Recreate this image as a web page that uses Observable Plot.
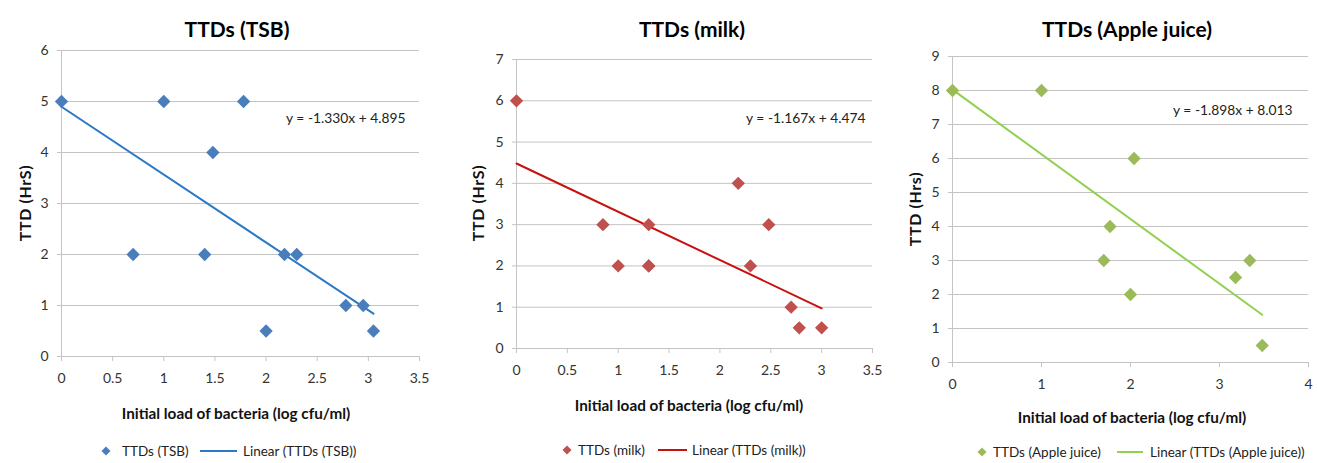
<!DOCTYPE html>
<html>
<head>
<meta charset="utf-8">
<script src="https://cdn.jsdelivr.net/npm/d3@7"></script>
<script src="https://cdn.jsdelivr.net/npm/@observablehq/plot@0.6"></script>
<style>
  html, body { margin: 0; padding: 0; background: #fff; }
  #root { position: relative; width: 1317px; height: 463px; overflow: hidden; font-family: Lato, "DejaVu Sans", sans-serif; }
  .panel { position: absolute; top: 0; }
  .title { position: absolute; transform: translate(-50%, -50%); font-weight: bold; font-size: 21px; color: #000; white-space: nowrap; }
  .xlab { position: absolute; transform: translate(-50%, -50%); font-weight: bold; font-size: 15.3px; color: #111; white-space: nowrap; }
  .ylab { position: absolute; transform: translate(-50%, -50%) rotate(-90deg); font-weight: bold; font-size: 16px; letter-spacing: 0.6px; color: #111; white-space: nowrap; }
  .leg { position: absolute; transform: translateY(-50%); font-size: 13.5px; color: #222; white-space: nowrap; }
  .legsvg { position: absolute; }
</style>
</head>
<body>
<div id="root"></div>
<script>
// ---------- data ----------
const tsbX = [0, 1, 1.78, 1.48, 0.7, 1.4, 2.18, 2.3, 2.78, 2.95, 2.0, 3.05];
const tsbY = [5, 5, 5, 4, 2, 2, 2, 2, 1, 1, 0.5, 0.5];

const milkX = [0, 0.85, 1.0, 1.3, 1.3, 1.3, 2.18, 2.3, 2.48, 2.7, 2.78, 3.0];
const milkY = [6, 3, 2, 3, 2, 2, 4, 2, 3, 1, 0.5, 0.5];

const appleX = [0, 1, 2.04, 1.77, 1.7, 2.0, 3.18, 3.34, 3.48];
const appleY = [8, 8, 6, 4, 3, 2, 2.5, 3, 0.5];

const titles = ["TTDs (TSB)", "TTDs (milk)", "TTDs (Apple juice)"];
const seriesNames = ["TTDs (TSB)", "TTDs (milk)", "TTDs (Apple juice)"];
const trendNames = ["Linear (TTDs (TSB))", "Linear (TTDs (milk))", "Linear (TTDs (Apple juice))"];
const equations = ["y = -1.330x + 4.895", "y = -1.167x + 4.474", "y = -1.898x + 8.013"];
const yLabels = ["TTD (HrS)", "TTD (HrS)", "TTD (Hrs)"];
const xLabel = "Initial load of bacteria (log cfu/ml)";

const xTicksHalf = [0, 0.5, 1, 1.5, 2, 2.5, 3, 3.5];
const xTicksWhole = [0, 1, 2, 3, 4];
const yTicks6 = [0, 1, 2, 3, 4, 5, 6];
const yTicks7 = [0, 1, 2, 3, 4, 5, 6, 7];
const yTicks9 = [0, 1, 2, 3, 4, 5, 6, 7, 8, 9];

// ---------- styles / layout ----------
const panels = [
  { xs: tsbX, ys: tsbY, xTicks: xTicksHalf, yTicks: yTicks6, dot: "#4a7ebb", line: "#2a78c8",
    left: 0, width: 440, mL: 61, mR: 21, mT: 50, mB: 107,
    titleC: [237, 28], xlabC: [236, 413], ylabC: [24, 203], eq: [-14, 68],
    legY: 451, legDiamond: 106, legText1: 122, legLine: [200, 237], legText2: 243 },
  { xs: milkX, ys: milkY, xTicks: xTicksHalf, yTicks: yTicks7, dot: "#c0504d", line: "#c8100f",
    left: 440, width: 440, mL: 76, mR: 8, mT: 59, mB: 115,
    titleC: [692, 28], xlabC: [689, 405], ylabC: [477, 203], eq: [-7, 59],
    legY: 450, legDiamond: 567, legText1: 578, legLine: [658, 687], legText2: 692 },
  { xs: appleX, ys: appleY, xTicks: xTicksWhole, yTicks: yTicks9, dot: "#9bbb59", line: "#92d050",
    left: 880, width: 437, mL: 72, mR: 9, mT: 56, mB: 101,
    titleC: [1127, 28], xlabC: [1132, 417], ylabC: [914, 209], eq: [-16, 54],
    legY: 452, legDiamond: 982, legText1: 993, legLine: [1117, 1143], legText2: 1150 }
];

const root = document.getElementById("root");

function addDiv(cls, text, x, y) {
  const d = document.createElement("div");
  d.className = cls;
  d.textContent = text;
  d.style.left = x + "px";
  d.style.top = y + "px";
  root.appendChild(d);
  return d;
}

function addSvg(html, x, y, w, h) {
  const s = document.createElementNS("http://www.w3.org/2000/svg", "svg");
  s.setAttribute("class", "legsvg");
  s.setAttribute("width", w);
  s.setAttribute("height", h);
  s.style.left = x + "px";
  s.style.top = y + "px";
  s.innerHTML = html;
  root.appendChild(s);
}

panels.forEach((p, i) => {
  const data = p.xs.map((x, k) => ({ x, y: p.ys[k] }));
  const chart = Plot.plot({
    width: p.width,
    height: 463,
    marginLeft: p.mL, marginRight: p.mR, marginTop: p.mT, marginBottom: p.mB,
    style: { fontFamily: "Lato, sans-serif", fontSize: "14px", color: "#333", background: "transparent", overflow: "visible" },
    x: { domain: [0, p.xTicks[p.xTicks.length - 1]] },
    y: { domain: [0, p.yTicks[p.yTicks.length - 1]] },
    marks: [
      Plot.gridY(p.yTicks, { stroke: "#c4c4c4", strokeOpacity: 1 }),
      Plot.ruleX([0], { stroke: "#c4c4c4" }),
      Plot.ruleY([0], { stroke: "#c4c4c4" }),
      Plot.axisX(p.xTicks, { tickSize: 5, tickPadding: 12, stroke: "#c4c4c4", fill: "#333", label: null, tickFormat: d => String(d) }),
      Plot.axisY(p.yTicks, { tickSize: 4, tickPadding: 9, stroke: "#c4c4c4", fill: "#333", label: null, tickFormat: d => String(d) }),
      Plot.linearRegressionY(data, { x: "x", y: "y", stroke: p.line, strokeWidth: 2, ci: 0 }),
      Plot.dot(data, { x: "x", y: "y", symbol: "diamond2", r: 6, fill: p.dot, stroke: null }),
      Plot.text([equations[i]], { frameAnchor: "top-right", textAnchor: "end", lineAnchor: "middle", dx: p.eq[0], dy: p.eq[1], fontSize: 13.8, fill: "#222" })
    ]
  });
  const holder = document.createElement("div");
  holder.className = "panel";
  holder.style.left = p.left + "px";
  holder.appendChild(chart);
  root.appendChild(holder);

  addDiv("title", titles[i], p.titleC[0], p.titleC[1]);
  addDiv("xlab", xLabel, p.xlabC[0], p.xlabC[1]);
  addDiv("ylab", yLabels[i], p.ylabC[0], p.ylabC[1]);

  // legend
  addSvg(`<path d="M5,0.5L9.5,5L5,9.5L0.5,5Z" fill="${p.dot}"/>`, p.legDiamond - 5, p.legY - 5, 10, 10);
  addDiv("leg", seriesNames[i], p.legText1, p.legY);
  const lw = p.legLine[1] - p.legLine[0];
  addSvg(`<line x1="0" x2="${lw}" y1="2" y2="2" stroke="${p.line}" stroke-width="2"/>`, p.legLine[0], p.legY - 2, lw, 4);
  addDiv("leg", trendNames[i], p.legText2, p.legY);
});
</script>
</body>
</html>
